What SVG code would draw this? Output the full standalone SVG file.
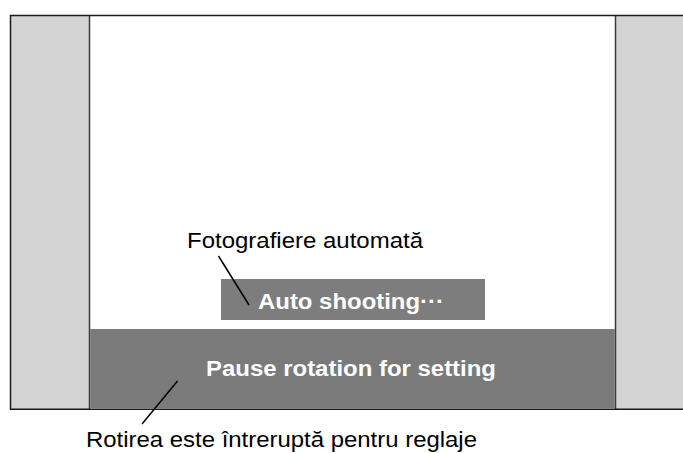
<svg xmlns="http://www.w3.org/2000/svg" width="683" height="453" viewBox="0 0 683 453">
<style>
.side{fill:#d4d4d4}
.frame{fill:none;stroke:#1a1a1a;stroke-width:1.5}
.inner{stroke:#3a3a3a;stroke-width:1.5}
.dark{fill:#7a7a7a}
.lbl{font-family:"Liberation Sans",Arial,sans-serif;fill:#000}
.wt{font-family:"Liberation Sans",Arial,sans-serif;font-weight:bold;fill:#fff}
.lead{stroke:#000;stroke-width:1.5;fill:none}
</style>
<rect width="683" height="453" fill="#fff"/>
<g id="screen">
<rect class="side" x="10.5" y="15.5" width="79" height="393.5"/>
<rect class="side" x="615.5" y="15.5" width="68" height="393.5"/>
<line class="inner" x1="89.5" y1="15" x2="89.5" y2="409"/>
<line class="inner" x1="615.5" y1="15" x2="615.5" y2="409"/>
<path class="frame" d="M683,15.5 H10.5 V409.3 H683"/>
</g>
<g id="pause-bar">
<rect class="dark" x="90.2" y="329" width="524.6" height="79.5"/>
<text class="wt" x="206" y="376" font-size="22" textLength="290" lengthAdjust="spacingAndGlyphs">Pause rotation for setting</text>
</g>
<g id="auto-box">
<rect x="221" y="279" width="264" height="41" fill="#7d7d7d"/>
<text class="wt" x="258" y="308.5" font-size="22" textLength="186" lengthAdjust="spacingAndGlyphs">Auto shooting···</text>
</g>
<g id="label-auto">
<text class="lbl" x="187" y="247.5" font-size="22" textLength="236" lengthAdjust="spacingAndGlyphs">Fotografiere automată</text>
</g>
<g id="label-pause">
<text class="lbl" x="86" y="447" font-size="22" textLength="391" lengthAdjust="spacingAndGlyphs">Rotirea este întreruptă pentru reglaje</text>
</g>
<g id="connectors">
<line class="lead" x1="218.5" y1="256" x2="249" y2="305"/>
<line class="lead" x1="177.5" y1="381" x2="142" y2="424"/>
</g>
</svg>
